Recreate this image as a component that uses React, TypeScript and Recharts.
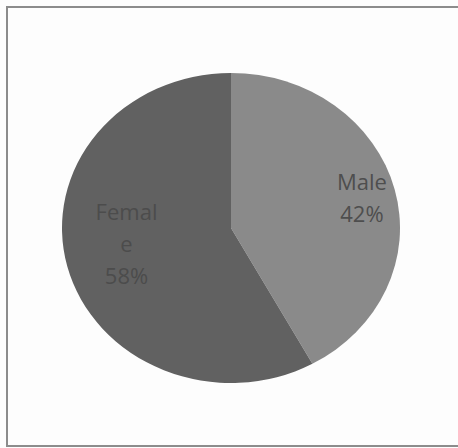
import React from 'react';
import { PieChart, Pie, Cell } from 'recharts';

const categories = ['Male', 'Female'];
const shares = [42, 58];
const labelLines = [['Male', '42%'], ['Femal', 'e', '58%']];
const sliceColors = ['#8a8a8a', '#616161'];
const textColors = ['#4e4e4e', '#4c4c4c'];

const data = categories.map((name, i) => ({ name, value: shares[i] }));

const SY = 155 / 169;
const CX = 231;
const CY = 228;
const R = 169;
const RAD = Math.PI / 180;
const radiusFactor = [0.8, 0.62];
const labelNudge = [
  [0, 0],
  [-3, -9],
];

const renderLabel = (props: any) => {
  const { midAngle, index } = props;
  const r = R * radiusFactor[index];
  const x = CX + r * Math.cos(-midAngle * RAD) + labelNudge[index][0];
  const y = CY + r * Math.sin(-midAngle * RAD) + labelNudge[index][1] / SY;
  const lines = labelLines[index];
  const lh = 32;
  const start = -((lines.length - 1) * lh) / 2;
  return (
    <g transform={`translate(${x},${y}) scale(1,${1 / SY})`}>
      {lines.map((t, k) => (
        <text
          key={k}
          x={0}
          y={start + k * lh}
          textAnchor="middle"
          dominantBaseline="central"
          fill={textColors[index]}
          fontFamily="Open Sans, sans-serif"
          fontSize={22}
        >
          {t}
        </text>
      ))}
    </g>
  );
};

export default function App() {
  return (
    <div
      style={{
        position: 'absolute',
        left: 0,
        top: 0,
        width: 458,
        height: 448,
        overflow: 'hidden',
        background: '#fdfdfd',
      }}
    >
      <div
        style={{
          position: 'absolute',
          left: 6,
          top: 6,
          width: 480,
          height: 441,
          border: '2px solid #8c8c8c',
          boxSizing: 'border-box',
        }}
      />
      <div
        style={{
          position: 'absolute',
          left: 0,
          top: 0,
          transform: `scaleY(${SY})`,
          transformOrigin: `0px ${CY}px`,
        }}
      >
        <PieChart width={458} height={448} margin={{ top: 0, right: 0, bottom: 0, left: 0 }}>
          <Pie
            data={data}
            dataKey="value"
            nameKey="name"
            cx={CX}
            cy={CY}
            outerRadius={R}
            startAngle={90}
            endAngle={-270}
            stroke="none"
            label={renderLabel}
            labelLine={false}
            isAnimationActive={false}
          >
            {data.map((d, i) => (
              <Cell key={d.name} fill={sliceColors[i]} />
            ))}
          </Pie>
        </PieChart>
      </div>
    </div>
  );
}
